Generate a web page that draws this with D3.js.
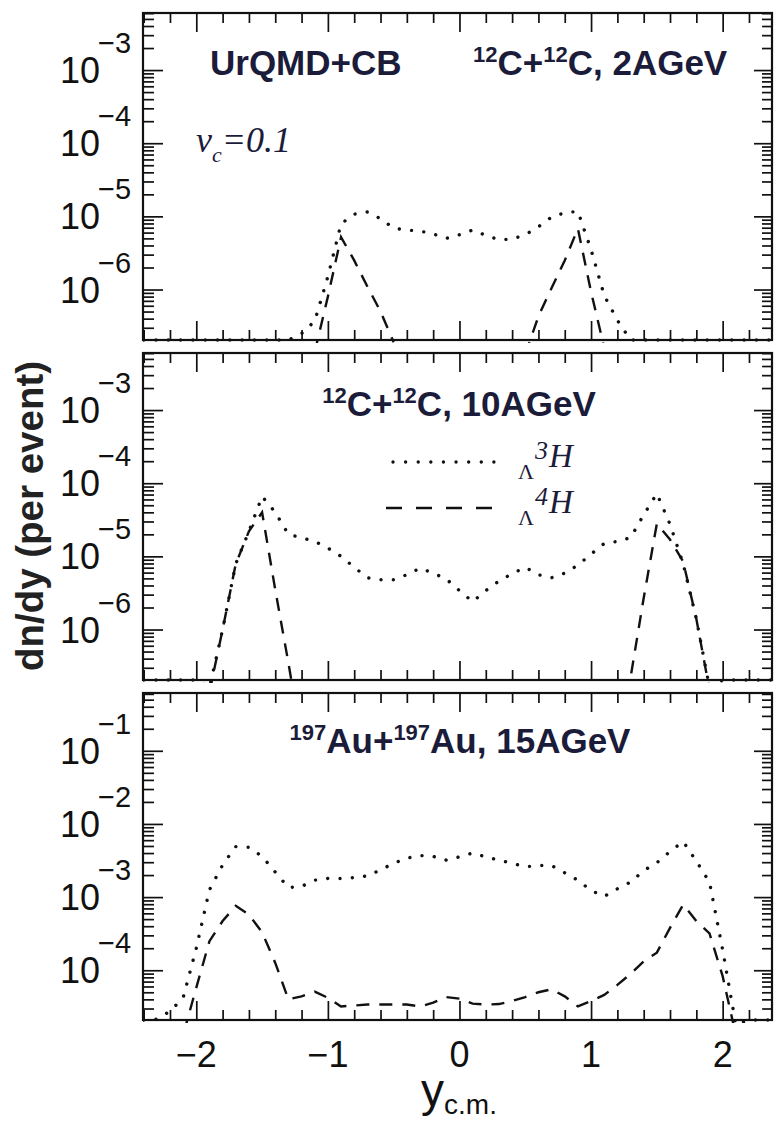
<!DOCTYPE html>
<html><head><meta charset="utf-8">
<script src="https://cdn.jsdelivr.net/npm/d3@7"></script>
<style>body{margin:0;background:#fff}</style>
</head><body>
<svg id="c" width="778" height="1124"></svg>
<script>
// ---------------- DATA ----------------
const rapidity = [-2.4,-2.3,-2.2,-2.1,-2.0,-1.9,-1.8,-1.7,-1.6,-1.5,-1.4,-1.3,-1.2,-1.1,-1.0,-0.9,-0.8,-0.7,-0.6,-0.5,-0.4,-0.3,-0.2,-0.1,0.0,
                  0.1,0.2,0.3,0.4,0.5,0.6,0.7,0.8,0.9,1.0,1.1,1.2,1.3,1.4,1.5,1.6,1.7,1.8,1.9,2.0,2.1,2.2,2.3,2.4];

// C+C 2 AGeV
const h3_C2 = [0,0,0,0,0,0,0,0,0,0,0,0,
  2.5e-7,3.7e-7,1.5e-6,7.9e-6,1.07e-5,1.15e-5,9.3e-6,6.9e-6,6.5e-6,6.3e-6,5.75e-6,5.0e-6,5.6e-6,
  6.5e-6,5.5e-6,4.8e-6,4.9e-6,5.6e-6,7.2e-6,9.8e-6,1.12e-5,1.17e-5,3.5e-6,8.3e-7,3.8e-7,
  0,0,0,0,0,0,0,0,0,0,0,0];
const h4_C2 = [null,null,null,null,null,null,null,null,null,null,null,null,null,
  1.4e-7,8e-7,5.2e-6,2.5e-6,1.1e-6,5e-7,1.9e-7,
  null,null,null,null,null,null,null,null,null,
  1.3e-7,4.3e-7,1.05e-6,2.5e-6,6.8e-6,9.3e-7,1.6e-7,
  null,null,null,null,null,null,null,null,null,null,null,null,null];

// C+C 10 AGeV
const h3_C10 = [0,0,0,0,0,
  1.6e-7,1.0e-6,7.9e-6,2.2e-5,6.6e-5,4.0e-5,2.0e-5,1.8e-5,1.6e-5,1.3e-5,1.0e-5,7.1e-6,5.1e-6,4.8e-6,4.8e-6,
  5.6e-6,6.9e-6,5.9e-6,4.9e-6,3.4e-6,2.4e-6,3.4e-6,4.6e-6,5.8e-6,7.1e-6,5.6e-6,5.1e-6,5.9e-6,7.6e-6,
  1.07e-5,1.5e-5,1.6e-5,1.8e-5,3.7e-5,7.2e-5,2.75e-5,7.9e-6,1.4e-6,1.6e-7,
  0,0,0,0,0];
const h4_C10 = [null,null,null,null,null,
  1.4e-7,1.0e-6,7.9e-6,2.2e-5,4.0e-5,3.5e-6,3.5e-7,3e-8,
  null,null,null,null,null,null,null,null,null,null,null,null,null,null,null,null,null,null,null,null,null,null,null,
  3e-8,2.2e-7,2.7e-6,2.8e-5,1.7e-5,8.5e-6,1.4e-6,1.5e-7,
  null,null,null,null,null];

// Au+Au 15 AGeV
const h3_Au15 = [0,2.15e-5,2.75e-5,4.2e-5,2.0e-4,1.26e-3,2.75e-3,4.9e-3,4.8e-3,3.6e-3,2.2e-3,1.35e-3,1.4e-3,1.7e-3,1.8e-3,
  1.8e-3,1.85e-3,1.95e-3,2.35e-3,2.9e-3,3.4e-3,3.7e-3,3.6e-3,3.2e-3,3.55e-3,
  4.0e-3,3.55e-3,3.2e-3,2.9e-3,2.6e-3,2.7e-3,2.7e-3,2.15e-3,1.7e-3,1.23e-3,1.02e-3,1.3e-3,1.6e-3,2.3e-3,
  2.95e-3,4.2e-3,5.75e-3,3.1e-3,1.6e-3,1.9e-4,1.8e-5,0,0,0];
const h4_Au15 = [null,null,8e-6,1.3e-5,5.8e-5,2.5e-4,4.7e-4,7.6e-4,5.75e-4,3.3e-4,1.26e-4,4.0e-5,4.4e-5,5.1e-5,4.2e-5,
  3.2e-5,3.3e-5,3.4e-5,3.4e-5,3.4e-5,3.4e-5,3.2e-5,3.6e-5,4.3e-5,4.1e-5,
  3.5e-5,3.4e-5,3.45e-5,3.8e-5,4.3e-5,5.0e-5,5.5e-5,4.4e-5,3.2e-5,3.8e-5,4.6e-5,6.3e-5,8.9e-5,1.32e-4,
  1.74e-4,3.8e-4,7.9e-4,4.7e-4,3.2e-4,8.3e-5,1.3e-5,null,null,null];

const xTickValues = [-2,-1,0,1,2];
const xTickLabels = ["\u22122","\u22121","0","1","2"];
const yMajorCC = [1e-3,1e-4,1e-5,1e-6];
const yMajorAu = [1e-1,1e-2,1e-3,1e-4];

const panelTitles = [
  {parts:[["12",1],["C+",0],["12",1],["C, 2AGeV",0]], x:473, anchor:"start", base:75},
  {parts:[["12",1],["C+",0],["12",1],["C, 10AGeV",0]], x:459, anchor:"middle", base:416},
  {parts:[["197",1],["Au+",0],["197",1],["Au, 15AGeV",0]], x:460, anchor:"middle", base:753}
];
const legendNames = [["3","H"],["4","H"]];

// ---------------- LAYOUT ----------------
const L = 143, R = 772, PH = 327;
const tops = [13, 353, 693];
const SANS = "'Liberation Sans', Arial, Helvetica, sans-serif";
const SERIF = "'Liberation Serif', 'Times New Roman', serif";
const INK = "#111";
const TXT = "#1b1b3a";

const svg = d3.select("#c");
const x = d3.scaleLinear().domain([-2.405, 2.375]).range([L, R]);

const panels = [
  {top:tops[0], dom:[Math.pow(10,-6.69), Math.pow(10,-2.22)], majors:yMajorCC, h3:h3_C2, h4:h4_C2},
  {top:tops[1], dom:[Math.pow(10,-6.69), Math.pow(10,-2.22)], majors:yMajorCC, h3:h3_C10, h4:h4_C10},
  {top:tops[2], dom:[Math.pow(10,-4.68), Math.pow(10,-0.21)], majors:yMajorAu, h3:h3_Au15, h4:h4_Au15}
];

const minorX = [-2.4,-2.2,-1.8,-1.6,-1.4,-1.2,-0.8,-0.6,-0.4,-0.2,0.2,0.4,0.6,0.8,1.2,1.4,1.6,1.8,2.2];

panels.forEach((p, idx) => {
  const bottom = p.top + PH;
  const y = d3.scaleLog().domain(p.dom).range([bottom, p.top]);
  const g = svg.append("g");

  const cid = "clip" + idx;
  svg.append("clipPath").attr("id", cid).append("rect")
    .attr("x", L).attr("y", p.top - 3).attr("width", R - L).attr("height", PH + 6);

  const lo = Math.floor(Math.log10(p.dom[0])), hi = Math.ceil(Math.log10(p.dom[1]));
  const minorY = [];
  for (let k = lo; k <= hi; k++) for (let m = 2; m <= 9; m++) {
    const v = m * Math.pow(10, k);
    if (v > p.dom[0] && v < p.dom[1]) minorY.push(v);
  }

  const axes = [
    [d3.axisLeft(y).tickValues(p.majors).tickSize(-20), `translate(${L},0)`],
    [d3.axisLeft(y).tickValues(minorY).tickSize(-11), `translate(${L},0)`],
    [d3.axisRight(y).tickValues(p.majors).tickSize(-18), `translate(${R},0)`],
    [d3.axisRight(y).tickValues(minorY).tickSize(-10), `translate(${R},0)`],
    [d3.axisTop(x).tickValues(xTickValues).tickSize(-19), `translate(0,${p.top})`],
    [d3.axisTop(x).tickValues(minorX).tickSize(-10), `translate(0,${p.top})`],
    [d3.axisBottom(x).tickValues(xTickValues).tickSize(-19), `translate(0,${bottom})`],
    [d3.axisBottom(x).tickValues(minorX).tickSize(-10), `translate(0,${bottom})`]
  ];
  axes.forEach(([ax, tr]) => {
    const a = g.append("g").attr("transform", tr).call(ax.tickFormat(""));
    a.select(".domain").remove();
    a.selectAll(".tick line").attr("stroke", INK).attr("stroke-width", 1.7);
  });

  g.append("rect").attr("x", L).attr("y", p.top).attr("width", R - L).attr("height", PH)
    .attr("fill", "none").attr("stroke", INK).attr("stroke-width", 2.2);

  p.majors.forEach(v => {
    const e = Math.round(Math.log10(v));
    const yy = y(v);
    g.append("text").attr("x", 100).attr("y", yy + 13).attr("text-anchor", "end")
      .attr("font-family", SANS).attr("font-size", 36).attr("fill", INK).text("10");
    g.append("text").attr("x", 98).attr("y", yy - 17)
      .attr("font-family", SANS).attr("font-size", 29).attr("fill", INK).text("\u2212" + Math.abs(e));
  });

  const floorV = p.dom[0];
  const line = d3.line()
    .defined(d => d[1] !== null)
    .x(d => x(d[0]))
    .y(d => y(d[1] <= 0 ? floorV : d[1]));
  const cg = g.append("g").attr("clip-path", `url(#${cid})`);
  cg.append("path").datum(rapidity.map((r, i) => [r, p.h3[i]]))
    .attr("d", line).attr("fill", "none").attr("stroke", INK)
    .attr("stroke-width", 3.4).attr("stroke-linecap", "round").attr("stroke-dasharray", "0.01 12.3");
  cg.append("path").datum(rapidity.map((r, i) => [r, p.h4[i]]))
    .attr("d", line).attr("fill", "none").attr("stroke", INK)
    .attr("stroke-width", 2.4).attr("stroke-dasharray", "13 10");

  const t = panelTitles[idx];
  const tx = g.append("text").attr("x", t.x).attr("y", t.base).attr("text-anchor", t.anchor)
    .attr("font-family", SANS).attr("font-weight", "bold").attr("fill", TXT);
  let sup = false;
  t.parts.forEach(([s, isSup]) => {
    const ts = tx.append("tspan").text(s).attr("font-size", isSup ? 22 : 35);
    if (isSup && !sup) { ts.attr("dy", -13); sup = true; }
    else if (!isSup && sup) { ts.attr("dy", 13); sup = false; }
  });
});

svg.append("text").attr("x", 210).attr("y", 75).attr("font-family", SANS).attr("font-weight", "bold")
  .attr("font-size", 35).attr("fill", TXT).text("UrQMD+CB");

const vt = svg.append("text").attr("x", 196).attr("y", 152).attr("font-family", SERIF)
  .attr("font-style", "italic").attr("fill", TXT);
vt.append("tspan").attr("font-size", 36).text("v");
vt.append("tspan").attr("font-size", 22).attr("dy", 10).text("c");
vt.append("tspan").attr("font-size", 36).attr("dy", -10).text("=0.1");

const legY = [462, 508];
svg.append("line").attr("x1", 393).attr("x2", 497).attr("y1", legY[0]).attr("y2", legY[0])
  .attr("stroke", INK).attr("stroke-width", 3.4).attr("stroke-linecap", "round").attr("stroke-dasharray", "0.01 12.6");
svg.append("line").attr("x1", 386).attr("x2", 498).attr("y1", legY[1]).attr("y2", legY[1])
  .attr("stroke", INK).attr("stroke-width", 2.4).attr("stroke-dasharray", "16 14");
legendNames.forEach((n, i) => {
  const base = legY[i] + 5;
  svg.append("text").attr("x", 518).attr("y", base + 12).attr("font-family", SERIF)
    .attr("font-size", 22).attr("fill", TXT).text("\u039B");
  svg.append("text").attr("x", 535).attr("y", base - 8).attr("font-family", SERIF).attr("font-style", "italic")
    .attr("font-size", 26).attr("fill", TXT).text(n[0]);
  svg.append("text").attr("x", 549).attr("y", base).attr("font-family", SERIF).attr("font-style", "italic")
    .attr("font-size", 33).attr("fill", TXT).text(n[1]);
});

const yb = tops[2] + PH;
xTickValues.forEach((v, i) => {
  svg.append("text").attr("x", x(v)).attr("y", yb + 47).attr("text-anchor", "middle")
    .attr("font-family", SANS).attr("font-size", 36).attr("fill", INK).text(xTickLabels[i]);
});

const xt = svg.append("text").attr("x", 459).attr("y", 1106).attr("text-anchor", "middle")
  .attr("font-family", SANS).attr("fill", INK);
xt.append("tspan").attr("font-size", 46).text("y");
xt.append("tspan").attr("font-size", 28).attr("dy", 8).text("c.m.");

svg.append("text").attr("transform", "translate(43,516) rotate(-90)").attr("text-anchor", "middle")
  .attr("font-family", SANS).attr("font-weight", "bold").attr("font-size", 38.5).attr("fill", "#222")
  .text("dn/dy (per event)");
</script>
</body></html>
